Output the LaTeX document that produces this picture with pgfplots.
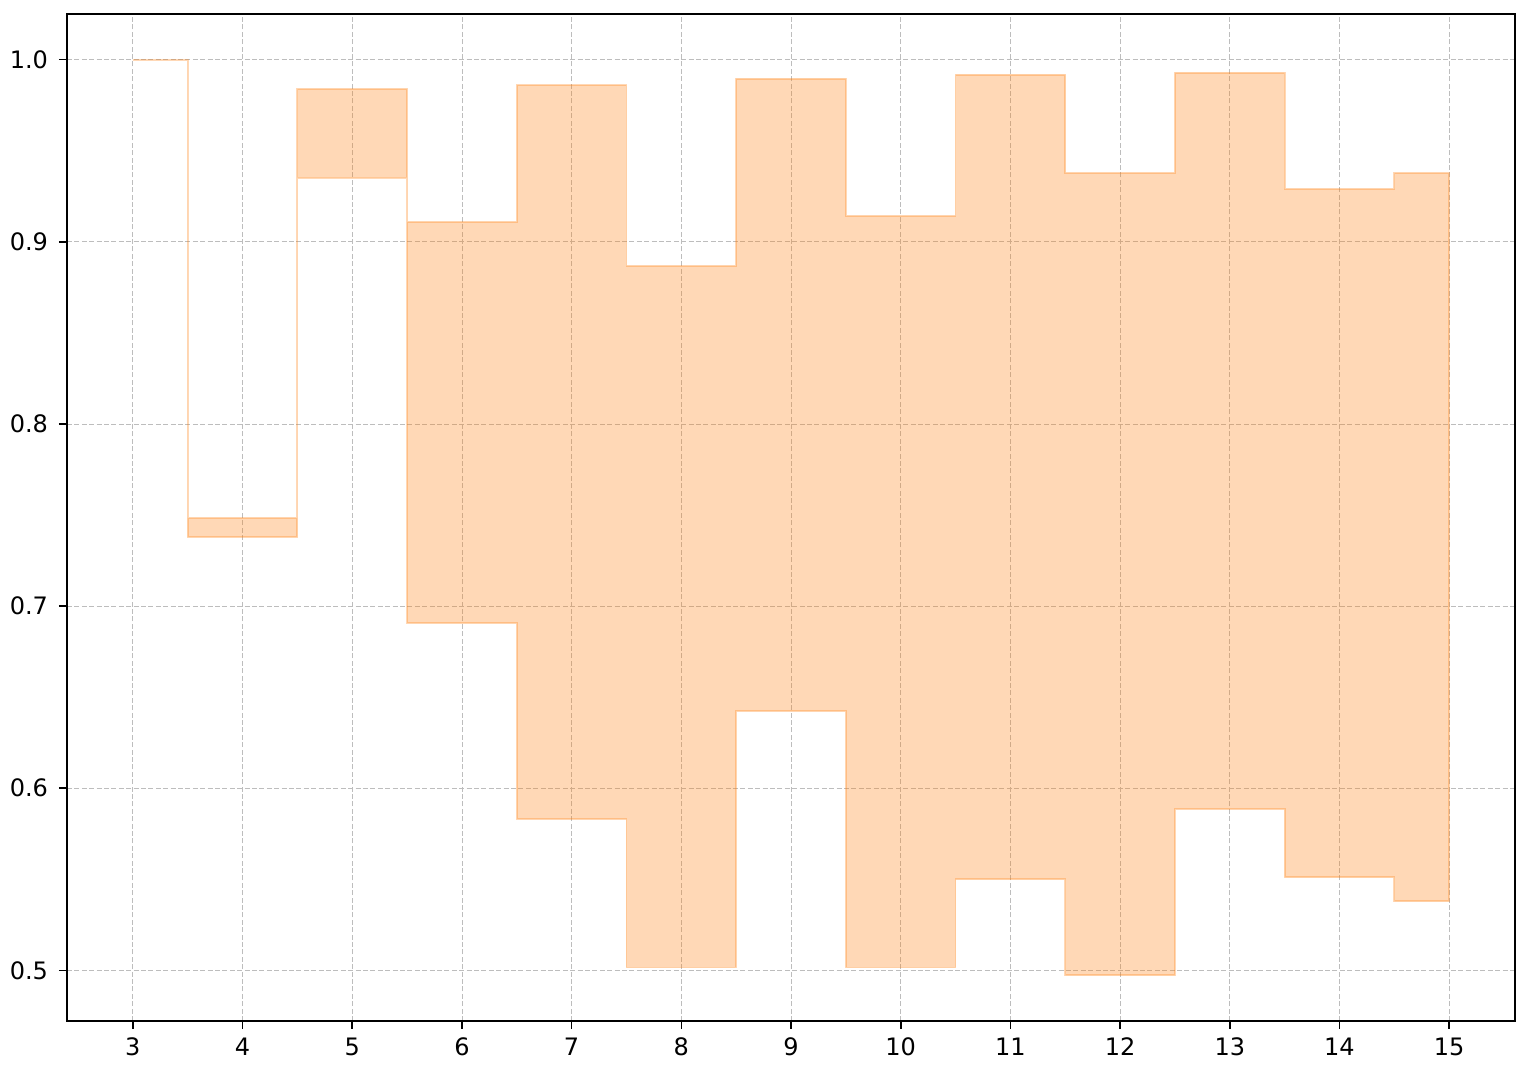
\documentclass[border=0pt]{standalone}
\usepackage{pgfplots}
\pgfplotsset{compat=1.18}
\usepgfplotslibrary{fillbetween}
\usepackage{fontspec}
\setmainfont{DejaVu Sans}
\definecolor{c1}{HTML}{FF7F0E}
\definecolor{gridc}{HTML}{BDBDBD}
\begin{document}
\begin{tikzpicture}
\begin{axis}[
  scale only axis, width=724pt, height=503.5pt,
  xmin=2.4, xmax=15.6, ymin=0.4722, ymax=1.0251,
  xtick={3,4,5,6,7,8,9,10,11,12,13,14,15},
  ytick={0.5,0.6,0.7,0.8,0.9,1.0},
  xtick pos=bottom, ytick pos=left,
  yticklabel style={xshift=-2pt, /pgf/number format/.cd, fixed, fixed zerofill, precision=1},
  /pgf/number format/assume math mode=true,
  tick align=outside, major tick length=4pt,
  tick style={black, line width=0.8pt},
  axis line style={line width=0.8pt},
  grid=major,
  grid style={gridc, line width=0.4pt, dash pattern=on 2.5pt off 1.2pt},
  tick label style={font=\fontsize{12}{14}\selectfont},
  xticklabel style={yshift=-1pt},
]
\coordinate (sw) at (rel axis cs:0,0);
\coordinate (ne) at (rel axis cs:1,1);
\addplot[name path=upper, draw=none, const plot mark mid] coordinates {
(3,1.0) (4,0.7484) (5,0.984) (6,0.911) (7,0.986) (8,0.8868) (9,0.9896)
(10,0.9143) (11,0.9918) (12,0.9379) (13,0.9929) (14,0.9291) (15,0.9379)};
\addplot[name path=lower, draw=none, const plot mark mid] coordinates {
(3,1.0) (4,0.7379) (5,0.9352) (6,0.6907) (7,0.583) (8,0.5016) (9,0.6423)
(10,0.5016) (11,0.55) (12,0.4973) (13,0.5885) (14,0.5511) (15,0.5379)};
\addplot[fill=c1, fill opacity=0.3, draw=c1, draw opacity=0.3, line width=0.9pt]
  fill between[of=upper and lower];
\end{axis}
\pgfresetboundingbox
\path[use as bounding box] ([xshift=-33.5pt,yshift=-25.5pt]sw) rectangle ([xshift=7.5pt,yshift=7pt]ne);
\end{tikzpicture}
\end{document}
